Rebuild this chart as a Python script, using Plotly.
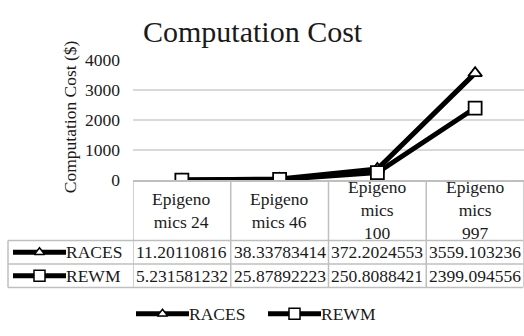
import plotly.graph_objects as go

# ---- data ----
categories = ["Epigenomics 24", "Epigenomics 46", "Epigenomics 100", "Epigenomics 997"]
tick_labels = ["Epigeno<br>mics 24", "Epigeno<br>mics 46", "Epigeno<br>mics<br>100", "Epigeno<br>mics<br>997"]
races = [11.20110816, 38.33783414, 372.2024553, 3559.103236]
rewm = [5.231581232, 25.87892223, 250.8088421, 2399.094556]
series_names = ["RACES", "REWM"]
y_ticks = [0, 1000, 2000, 3000, 4000]

# ---- layout helpers (pixel -> paper) ----
W, H = 524, 336
FONT = "Liberation Serif, Times New Roman, serif"
TXT = "#1a1a1a"
GRID = "#D9D9D9"
BORDER = "#BFBFBF"


def px(x):
    return x / W


def py(y):
    return 1 - y / H


plot_top, plot_bottom = 53, 181
row_lines = [245, 270, 295]
table_left = 8
legend_y = 323

fig = go.Figure()

styles = {
    "RACES": dict(symbol="triangle-up", size=12, key_size=9),
    "REWM": dict(symbol="square", size=13, key_size=11),
}
values = {"RACES": races, "REWM": rewm}

# data lines
for name in series_names:
    st = styles[name]
    fig.add_trace(go.Scatter(
        x=list(range(len(categories))), y=values[name], name=name,
        mode="lines+markers",
        line=dict(color="black", width=5),
        marker=dict(symbol=st["symbol"], size=st["size"], color="white",
                    line=dict(color="black", width=1.8)),
        showlegend=False, xaxis="x", yaxis="y",
    ))


def text_ann(x, y, text, size=17.5, xref="paper", xanchor="center", **kw):
    return dict(x=x, y=y, xref=xref, yref="paper", text=text, showarrow=False,
                xanchor=xanchor, yanchor="middle",
                font=dict(family=FONT, size=size, color=TXT), **kw)


def legend_key(x0, y, name, anns):
    st = styles[name]
    fig.add_trace(go.Scatter(
        x=[x0, x0 + 53], y=[y, y], mode="lines",
        line=dict(color="black", width=5),
        showlegend=False, hoverinfo="skip", xaxis="x2", yaxis="y2",
    ))
    fig.add_trace(go.Scatter(
        x=[x0 + 26.5], y=[y], mode="markers",
        marker=dict(symbol=st["symbol"], size=st["key_size"], color="white",
                    line=dict(color="black", width=1.5)),
        showlegend=False, hoverinfo="skip", xaxis="x2", yaxis="y2",
    ))
    anns.append(text_ann(px(x0 + 53), py(y), name, xanchor="left", xshift=-2))


annotations = []

# title and y-axis title
annotations.append(text_ann(px(253), py(23), "Computation Cost", size=30))
annotations.append(text_ann(px(70), py(114), "Computation Cost ($)", textangle=-90))

# category header row of the data table (wrapped labels, vertically centred)
header_mid = (plot_bottom + row_lines[0]) / 2
for i, lab in enumerate(tick_labels):
    annotations.append(text_ann(i, py(header_mid), lab, xref="x"))

# value rows of the data table
for r, name in enumerate(series_names):
    yc = (row_lines[r] + row_lines[r + 1]) / 2
    legend_key(13, yc, name, annotations)
    for i, v in enumerate(values[name]):
        annotations.append(text_ann(i, py(yc), f"{v}", xref="x"))

# bottom legend
legend_key(136, legend_y, "RACES", annotations)
legend_key(268, legend_y, "REWM", annotations)

# table borders
shapes = []
for yl in row_lines:
    shapes.append(dict(type="line", xref="paper", yref="paper",
                       x0=px(table_left), x1=px(523), y0=py(yl), y1=py(yl),
                       line=dict(color=BORDER, width=1.5)))
shapes.append(dict(type="line", xref="paper", yref="paper",
                   x0=px(table_left), x1=px(table_left), y0=py(row_lines[0]), y1=py(row_lines[-1]),
                   line=dict(color=BORDER, width=1.5)))
for b in [i - 0.5 for i in range(len(categories) + 1)]:
    shapes.append(dict(type="line", xref="x", yref="paper",
                       x0=b, x1=b, y0=py(plot_bottom), y1=py(row_lines[-1]),
                       line=dict(color=BORDER, width=1.5)))

fig.update_layout(
    width=W, height=H,
    margin=dict(l=0, r=0, t=0, b=0),
    paper_bgcolor="white", plot_bgcolor="rgba(0,0,0,0)",
    showlegend=False,
    xaxis=dict(domain=[px(133), 1], range=[-0.5, 3.5],
               type="linear", showgrid=False, zeroline=False, showticklabels=False,
               showline=True, linecolor=BORDER, linewidth=1.5, fixedrange=True),
    yaxis=dict(domain=[py(plot_bottom), py(plot_top)], range=[0, 4000],
               tickvals=y_ticks, ticktext=[str(t) for t in y_ticks],
               showgrid=True, gridcolor=GRID, gridwidth=1.5, zeroline=False,
               ticks="", ticklabelstandoff=12,
               tickfont=dict(family=FONT, size=17.5, color=TXT), fixedrange=True),
    xaxis2=dict(domain=[0, 1], range=[0, W], visible=False, anchor="y2", fixedrange=True),
    yaxis2=dict(domain=[0, 1], range=[H, 0], visible=False, anchor="x2", fixedrange=True),
    annotations=annotations,
    shapes=shapes,
)

fig.write_html("out.html")
